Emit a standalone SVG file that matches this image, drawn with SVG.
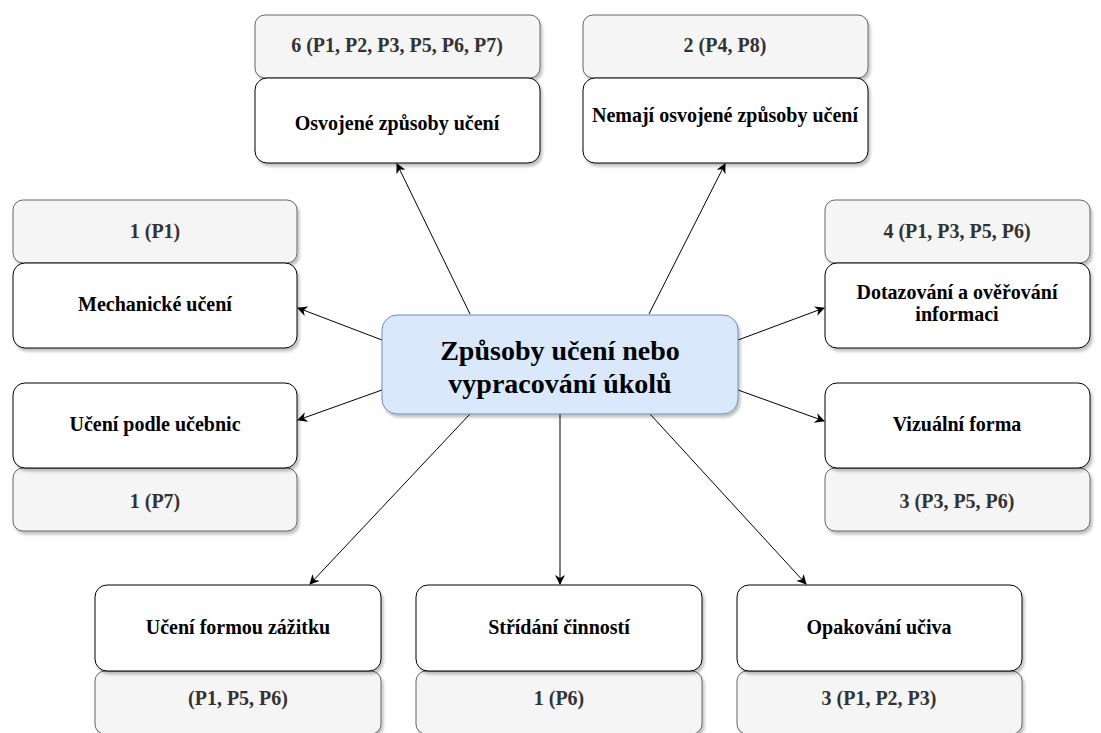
<svg xmlns="http://www.w3.org/2000/svg" width="1101" height="733" viewBox="0 0 1101 733">
<defs>
<filter id="sh" x="-10%" y="-10%" width="130%" height="140%">
<feGaussianBlur in="SourceAlpha" stdDeviation="1.5"/>
<feOffset dx="2" dy="3" result="b"/>
<feComponentTransfer><feFuncA type="linear" slope="0.25"/></feComponentTransfer>
<feMerge><feMergeNode/><feMergeNode in="SourceGraphic"/></feMerge>
</filter>
<marker id="ar" viewBox="0 0 10 10" refX="9" refY="5" markerWidth="10" markerHeight="10" markerUnits="userSpaceOnUse" orient="auto">
<path d="M0,0 L10,5 L0,10 L3,5 Z" fill="#000"/>
</marker>
</defs>
<style>
.g{fill:#f5f5f5;stroke:#666;stroke-width:1;filter:url(#sh)}
.w{fill:#fff;stroke:#000;stroke-width:1;filter:url(#sh)}
.c{fill:#dae8fc;stroke:#6c8ebf;stroke-width:1;filter:url(#sh)}
text{font-family:"Liberation Serif","Times New Roman",serif;font-weight:bold;text-anchor:middle}
.tg{font-size:20px;fill:#333}
.tw{font-size:20px;fill:#000}
.tc{font-size:28px;fill:#000}
.e{stroke:#000;stroke-width:1;fill:none;marker-end:url(#ar)}
</style>
<rect width="1101" height="733" fill="#fff"/>
<g id="connectors">
<line class="e" x1="470" y1="314" x2="397" y2="164"/>
<line class="e" x1="649" y1="314" x2="725" y2="164"/>
<line class="e" x1="382" y1="340" x2="298" y2="308"/>
<line class="e" x1="382" y1="390" x2="298" y2="420"/>
<line class="e" x1="738" y1="340" x2="824" y2="308"/>
<line class="e" x1="738" y1="390" x2="824" y2="421"/>
<line class="e" x1="470" y1="414" x2="310" y2="584"/>
<line class="e" x1="560" y1="414" x2="560" y2="584"/>
<line class="e" x1="650" y1="414" x2="806" y2="584"/>
</g>
<g id="center">
<rect class="c" x="382" y="315" width="356" height="99" rx="15"/>
<text class="tc" x="560" y="360">Způsoby učení nebo</text>
<text class="tc" x="560" y="393">vypracování úkolů</text>
</g>
<g id="osvojene">
<rect class="g" x="255" y="15" width="285" height="63" rx="10"/>
<text class="tg" x="397" y="52">6 (P1, P2, P3, P5, P6, P7)</text>
<rect class="w" x="255" y="78" width="285" height="85" rx="12"/>
<text class="tw" x="397" y="130">Osvojené způsoby učení</text>
</g>
<g id="nemaji">
<rect class="g" x="583" y="15" width="285" height="63" rx="10"/>
<text class="tg" x="725" y="52">2 (P4, P8)</text>
<rect class="w" x="583" y="78" width="285" height="85" rx="12"/>
<text class="tw" x="725" y="122">Nemají osvojené způsoby učení</text>
</g>
<g id="mechanicke">
<rect class="g" x="13" y="200" width="284" height="63" rx="10"/>
<text class="tg" x="155" y="238">1 (P1)</text>
<rect class="w" x="13" y="263" width="284" height="85" rx="12"/>
<text class="tw" x="155" y="311">Mechanické učení</text>
</g>
<g id="ucebnice">
<rect class="g" x="13" y="468" width="284" height="63" rx="10"/>
<text class="tg" x="155" y="508">1 (P7)</text>
<rect class="w" x="13" y="383" width="284" height="85" rx="12"/>
<text class="tw" x="155" y="431">Učení podle učebnic</text>
</g>
<g id="dotazovani">
<rect class="g" x="825" y="200" width="265" height="63" rx="10"/>
<text class="tg" x="957" y="238">4 (P1, P3, P5, P6)</text>
<rect class="w" x="825" y="263" width="265" height="85" rx="12"/>
<text class="tw" x="957" y="299">Dotazování a ověřování</text>
<text class="tw" x="957" y="321">informaci</text>
</g>
<g id="vizualni">
<rect class="g" x="825" y="468" width="265" height="63" rx="10"/>
<text class="tg" x="957" y="508">3 (P3, P5, P6)</text>
<rect class="w" x="825" y="383" width="265" height="85" rx="12"/>
<text class="tw" x="957" y="431">Vizuální forma</text>
</g>
<g id="zazitek">
<rect class="g" x="95" y="671" width="286" height="63" rx="10"/>
<text class="tg" x="238" y="705">(P1, P5, P6)</text>
<rect class="w" x="95" y="585" width="286" height="86" rx="12"/>
<text class="tw" x="238" y="634">Učení formou zážitku</text>
</g>
<g id="stridani">
<rect class="g" x="416" y="671" width="286" height="63" rx="10"/>
<text class="tg" x="559" y="705">1 (P6)</text>
<rect class="w" x="416" y="585" width="286" height="86" rx="12"/>
<text class="tw" x="559" y="634">Střídání činností</text>
</g>
<g id="opakovani">
<rect class="g" x="737" y="671" width="285" height="63" rx="10"/>
<text class="tg" x="879" y="705">3 (P1, P2, P3)</text>
<rect class="w" x="737" y="585" width="285" height="86" rx="12"/>
<text class="tw" x="879" y="634">Opakování učiva</text>
</g>
</svg>
